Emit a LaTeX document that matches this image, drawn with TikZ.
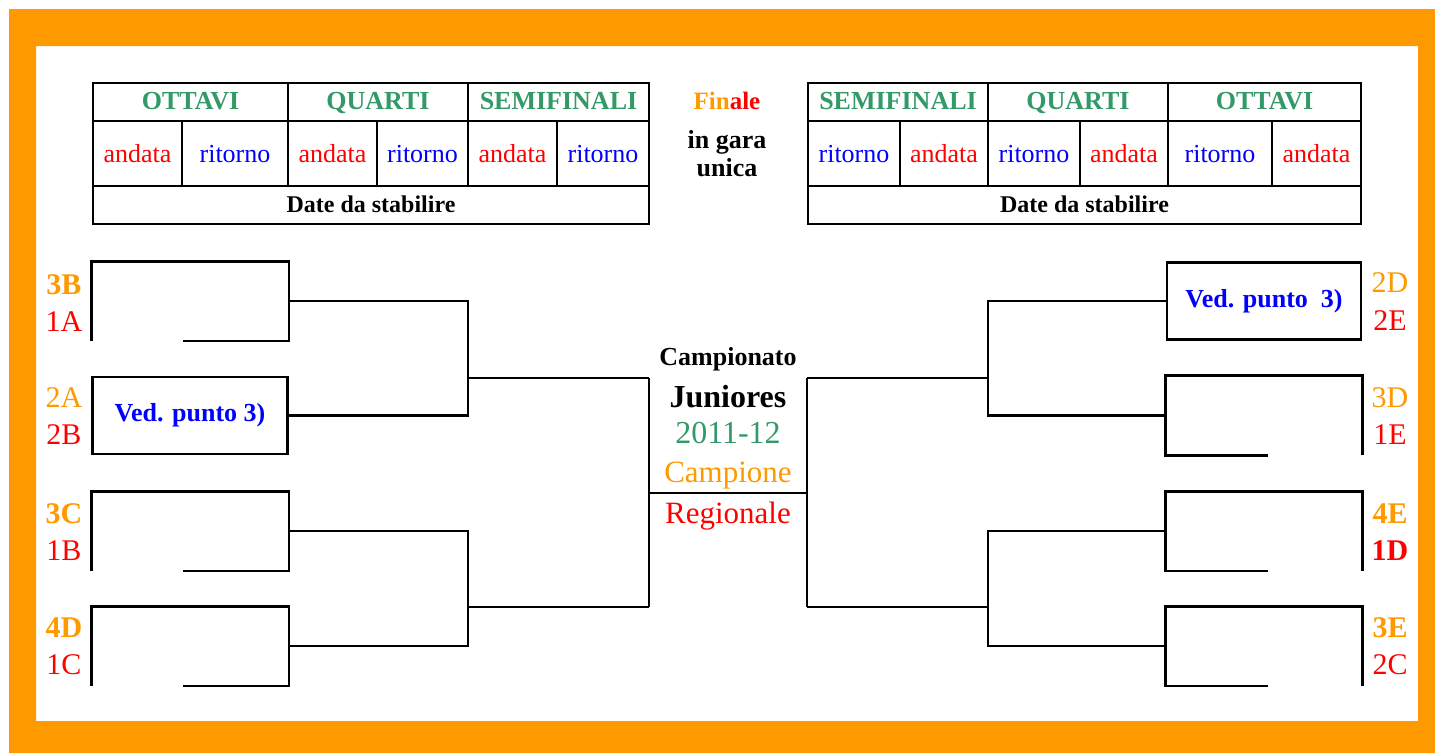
\documentclass[tikz,border=0pt]{standalone}
\usepackage{fontspec}
\setmainfont{Liberation Serif}
\usetikzlibrary{calc}

\definecolor{arancio}{RGB}{255,153,0}
\definecolor{verde}{RGB}{51,153,102}
\definecolor{rosso}{RGB}{255,0,0}
\definecolor{blu}{RGB}{0,0,255}

\tikzset{
  linea/.style={line width=2.7pt},
  cella/.style={draw, line width=2.7pt, inner sep=0pt, minimum height=65pt,
    text height=14pt, text depth=0pt, font=\fontsize{26}{30}\selectfont},
  testata/.style={cella, minimum height=38pt, text=verde,
    font=\fontsize{26}{30}\selectfont\bfseries},
  piede/.style={cella, minimum height=38pt, font=\fontsize{24}{28}\selectfont\bfseries},
  casella/.style={inner sep=0pt, minimum width=195pt, minimum height=77pt, line width=2.7pt},
  squadra/.style={font=\fontsize{30}{34}\selectfont},
  squadrab/.style={font=\fontsize{30}{34}\selectfont\bfseries},
  titolo/.style={anchor=base, inner sep=0pt}
}

\begin{document}
\begin{tikzpicture}[x=1pt, y=-1pt]
    \useasboundingbox (0,0) rectangle (1435,753);
    % cornice
    \fill[arancio, even odd rule] (9,9) rectangle (1435,753) (36,46) rectangle (1418,721);

    % tabella sinistra
    \node[testata, minimum width=195pt] (ottL) at (190.5,102) {OTTAVI};
    \node[testata, minimum width=180pt] (quaL) at (378,102) {QUARTI};
    \node[testata, minimum width=181pt] (semL) at (558.5,102) {SEMIFINALI};
    \node[cella, minimum width=89pt, text=rosso] (a1L) at (137.5,153.5) {\raisebox{-2pt}{andata}};
    \node[cella, minimum width=106pt, text=blu] (r1L) at (235,153.5) {\raisebox{-2pt}{ritorno}};
    \node[cella, minimum width=89pt, text=rosso] (a2L) at (332.5,153.5) {\raisebox{-2pt}{andata}};
    \node[cella, minimum width=91pt, text=blu] (r2L) at (422.5,153.5) {\raisebox{-2pt}{ritorno}};
    \node[cella, minimum width=89pt, text=rosso] (a3L) at (512.5,153.5) {\raisebox{-2pt}{andata}};
    \node[cella, minimum width=92pt, text=blu] (r3L) at (603,153.5) {\raisebox{-2pt}{ritorno}};
    \node[piede, minimum width=556pt] (datL) at (371,205) {Date da stabilire};

    % tabella destra
    \node[testata, minimum width=180pt] (semR) at (898,102) {SEMIFINALI};
    \node[testata, minimum width=180pt] (quaR) at (1078,102) {QUARTI};
    \node[testata, minimum width=193pt] (ottR) at (1264.5,102) {OTTAVI};
    \node[cella, minimum width=92pt, text=blu] (r3R) at (854,153.5) {\raisebox{-2pt}{ritorno}};
    \node[cella, minimum width=88pt, text=rosso] (a3R) at (944,153.5) {\raisebox{-2pt}{andata}};
    \node[cella, minimum width=92pt, text=blu] (r2R) at (1034,153.5) {\raisebox{-2pt}{ritorno}};
    \node[cella, minimum width=88pt, text=rosso] (a2R) at (1124,153.5) {\raisebox{-2pt}{andata}};
    \node[cella, minimum width=104pt, text=blu] (r1R) at (1220,153.5) {\raisebox{-2pt}{ritorno}};
    \node[cella, minimum width=89pt, text=rosso] (a1R) at (1316.5,153.5) {\raisebox{-2pt}{andata}};
    \node[piede, minimum width=553pt] (datR) at (1084.5,205) {Date da stabilire};

    % finale
    \node[titolo, font=\fontsize{25}{28}\selectfont\bfseries] (finale) at (727,109)
      {\textcolor{arancio}{Fin}\textcolor{rosso}{ale}};
    \node[titolo, font=\fontsize{26}{28}\selectfont\bfseries] (gara) at (727,148.5) {in gara};
    \node[titolo, font=\fontsize{26}{28}\selectfont\bfseries] (unica) at (727,176.5) {unica};

    % caselle sinistre
    \node[casella] (b1) at (190,301) {};
    \node[casella, draw] (b2) at (190,415.5) {\textcolor{blu}{\fontsize{26}{30}\selectfont\bfseries Ved. punto 3)}};
    \node[casella] (b3) at (190,531) {};
    \node[casella] (b4) at (190,646) {};
    \draw[linea] (b1.south west) -- (b1.north west) -- (b1.north east) -- (b1.south east) -- ++(-106,0);
    \draw[linea] (b3.south west) -- (b3.north west) -- (b3.north east) -- (b3.south east) -- ++(-106,0);
    \draw[linea] (b4.south west) -- (b4.north west) -- (b4.north east) -- (b4.south east) -- ++(-106,0);

    % caselle destre
    \node[casella, minimum width=194pt, draw] (c1) at (1264,301) {\textcolor{blu}{\fontsize{26}{30}\selectfont\bfseries Ved. punto\ \ 3)}};
    \node[casella, minimum width=194pt] (c2) at (1264,415.5) {};
    \node[casella, minimum width=194pt] (c3) at (1264,531) {};
    \node[casella, minimum width=194pt] (c4) at (1264,646) {};
    \draw[linea] (c2.south east) -- (c2.north east) -- (c2.north west) -- (c2.south west) -- ++(102,0);
    \draw[linea] (c3.south east) -- (c3.north east) -- (c3.north west) -- (c3.south west) -- ++(102,0);
    \draw[linea] (c4.south east) -- (c4.north east) -- (c4.north west) -- (c4.south west) -- ++(102,0);

    % squadre
    \node[squadrab, text=arancio] (s3B) at (64,285) {3B};
    \node[squadra, text=rosso] (s1A) at (64,322) {1A};
    \node[squadra, text=arancio] (s2A) at (64,398) {2A};
    \node[squadra, text=rosso] (s2B) at (64,435) {2B};
    \node[squadrab, text=arancio] (s3C) at (64,514) {3C};
    \node[squadra, text=rosso] (s1B) at (64,551) {1B};
    \node[squadrab, text=arancio] (s4D) at (64,628) {4D};
    \node[squadra, text=rosso] (s1C) at (64,665) {1C};
    \node[squadra, text=arancio] (s2D) at (1390,283) {2D};
    \node[squadra, text=rosso] (s2E) at (1390,321) {2E};
    \node[squadra, text=arancio] (s3D) at (1390,398) {3D};
    \node[squadra, text=rosso] (s1E) at (1390,435) {1E};
    \node[squadrab, text=arancio] (s4E) at (1390,514) {4E};
    \node[squadrab, text=rosso] (s1D) at (1390,551) {1D};
    \node[squadrab, text=arancio] (s3E) at (1390,628) {3E};
    \node[squadra, text=rosso] (s2C) at (1390,665) {2C};

    % tabellone
    \coordinate (q1) at (468,378);
    \coordinate (q2) at (468,607);
    \coordinate (q3) at (988,378);
    \coordinate (q4) at (988,607);
    \coordinate (sL1) at (649,378);
    \coordinate (sL2) at (649,607);
    \coordinate (sR1) at (807,378);
    \coordinate (sR2) at (807,607);
    \coordinate (fin) at (728,493);
    \draw[linea] (b1.east) -- (b1.east -| q1) -- (b2.east -| q1) -- (b2.east);
    \draw[linea] (b3.east) -- (b3.east -| q2) -- (b4.east -| q2) -- (b4.east);
    \draw[linea] (c1.west) -- (c1.west -| q3) -- (c2.west -| q3) -- (c2.west);
    \draw[linea] (c3.west) -- (c3.west -| q4) -- (c4.west -| q4) -- (c4.west);
    \path[linea, draw]
    (q1) edge (sL1)
    (q2) edge (sL2)
    (q3) edge (sR1)
    (q4) edge (sR2)
    (sL1) edge (sL2)
    (sR1) edge (sR2)
    (sL1 |- fin) edge (sR1 |- fin);

    % campionato
    \node[titolo, font=\fontsize{26}{28}\selectfont\bfseries] (camp) at (728,365) {Campionato};
    \node[titolo, font=\fontsize{32}{34}\selectfont\bfseries] (juni) at (728,407) {Juniores};
    \node[titolo, font=\fontsize{32}{34}\selectfont, text=verde] (anno) at (728,443) {2011-12};
    \node[titolo, font=\fontsize{31}{34}\selectfont, text=arancio] (campione) at (728,482) {Campione};
    \node[titolo, font=\fontsize{31}{34}\selectfont, text=rosso] (regio) at (728,523) {Regionale};
\end{tikzpicture}
\end{document}
